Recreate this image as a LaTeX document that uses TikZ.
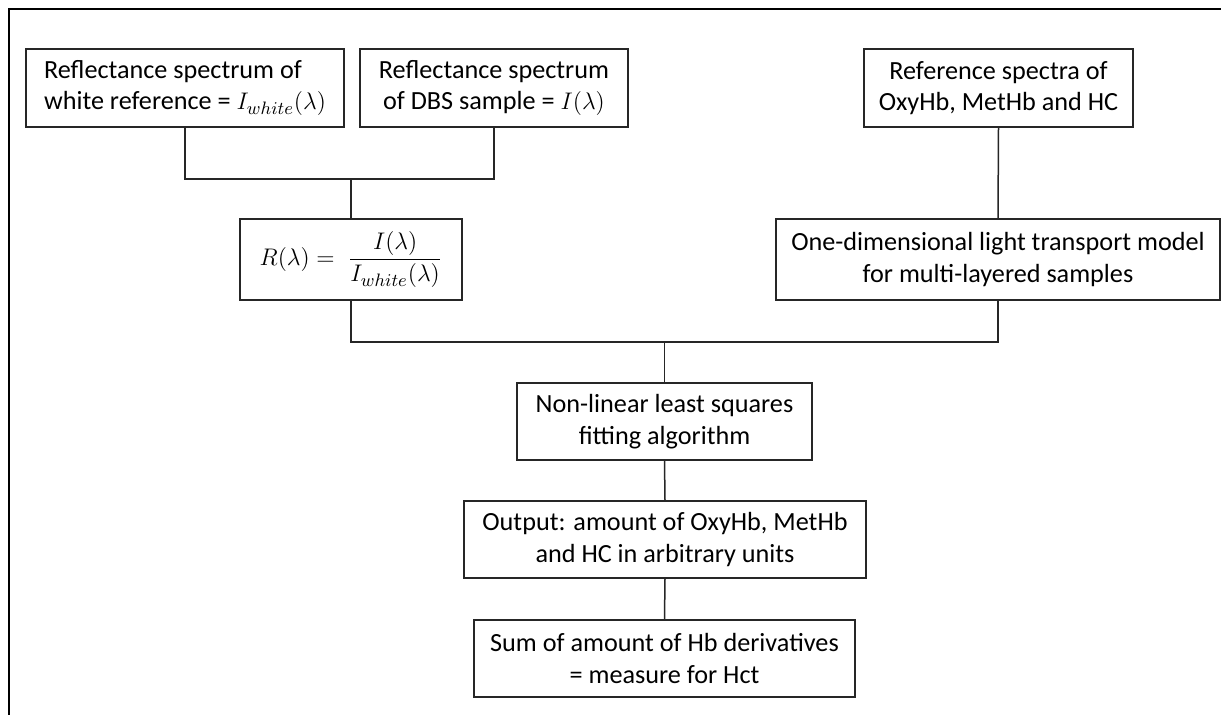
\documentclass[tikz,border=0pt]{standalone}
\usepackage{amsmath}
\usepackage{fontspec}
\setmainfont{Carlito}
\begin{document}
\begin{tikzpicture}[x=0.5pt,y=-0.5pt,
  box/.style={draw=black!85, line width=0.8pt, rectangle, inner sep=0pt,
    align=center, font=\fontsize{13.1pt}{15.8pt}\selectfont},
  conn/.style={draw=black!85, line width=0.75pt},
  frame/.style={draw=black, line width=1.3pt}]
\useasboundingbox (0,0) rectangle (1221,715);
\fill[white] (0,0) rectangle (1221,715);
\draw[frame] (9,715) -- (9,9) -- (1221,9);

\node[box, minimum width=159pt, minimum height=39pt, align=left] (b1) at (185,88)
  {Reflectance spectrum of\\white reference = $I_{white}(\lambda)$};
\node[box, minimum width=134pt, minimum height=39pt] (b2) at (494,88)
  {Reflectance spectrum\\of DBS sample = $I(\lambda)$};
\node[box, minimum width=134.5pt, minimum height=39pt] (b3) at (998.5,88)
  {Reference spectra of\\OxyHb, MetHb and HC};
\node[box, minimum width=111pt, minimum height=40.5pt] (fm) at (351,259.5)
  {$R(\lambda) = \;\dfrac{I(\lambda)}{I_{white}(\lambda)}$};
\node[box, minimum width=222pt, minimum height=40.5pt] (b4) at (998,259.5)
  {One-dimensional light transport model\\for multi-layered samples};
\node[box, minimum width=147.5pt, minimum height=38.5pt] (b5) at (664.5,421.5)
  {Non-linear least squares\\fitting algorithm};
\node[box, minimum width=201pt, minimum height=38.5pt] (b6) at (665,539.5)
  {Output: amount of OxyHb, MetHb\\and HC in arbitrary units};
\node[box, minimum width=190.5pt, minimum height=38.5pt] (b7) at (664.5,658.5)
  {Sum of amount of Hb derivatives\\= measure for Hct};

\coordinate (j1) at (351,179);
\coordinate (j2) at (664.5,342);

\draw[conn] (b1.south) |- (j1) -| (b2.south);
\draw[conn] (j1) -- (fm.north);
\draw[conn] (b3.south) -- (b4.north);
\draw[conn] (fm.south) |- (j2) -| (b4.south);
\draw[conn] (j2) -- (b5.north);
\draw[conn] (b5.south) -- (b6.north);
\draw[conn] (b6.south) -- (b7.north);
\end{tikzpicture}
\end{document}
